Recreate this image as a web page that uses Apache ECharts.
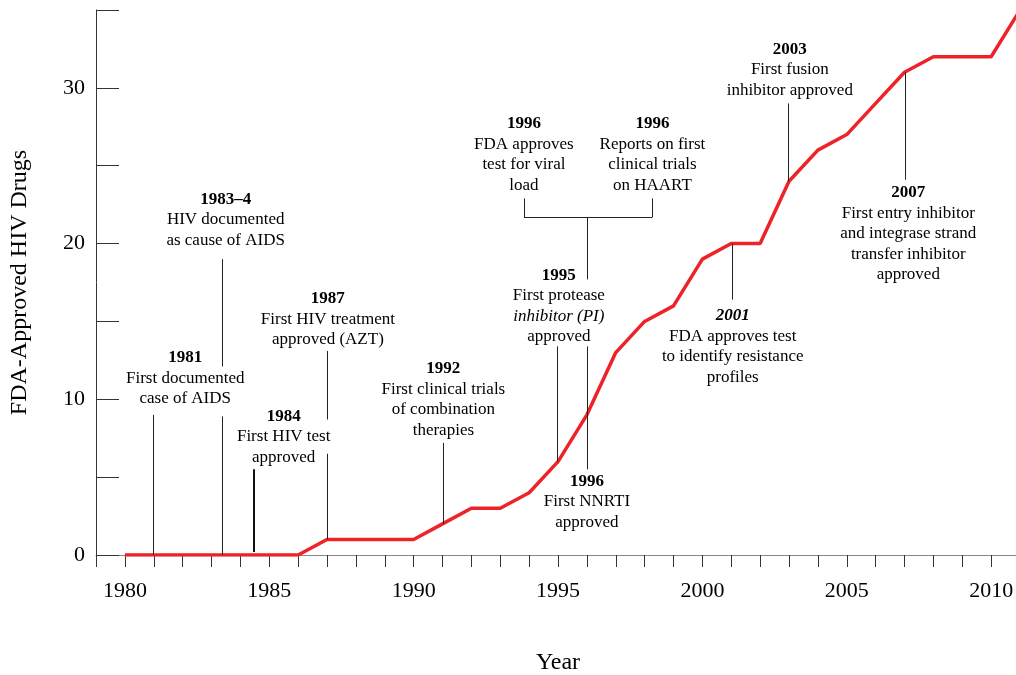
<!DOCTYPE html>
<html>
<head>
<meta charset="utf-8">
<script src="https://cdn.jsdelivr.net/npm/echarts@6/dist/echarts.min.js"></script>
<style>
  html, body { margin: 0; padding: 0; background: #fff; }
  #main { width: 1016px; height: 675px; }
</style>
</head>
<body>
<div id="main"></div>
<script>
// FDA-approved HIV drugs, cumulative count per year
const years = [1980, 1981, 1982, 1983, 1984, 1985, 1986, 1987, 1988, 1989, 1990, 1991, 1992, 1993, 1994, 1995,
  1996, 1997, 1998, 1999, 2000, 2001, 2002, 2003, 2004, 2005, 2006, 2007, 2008, 2009, 2010, 2011];
const drugs = [0, 0, 0, 0, 0, 0, 0, 1, 1, 1, 1, 2, 3, 3, 4, 6,
  9, 13, 15, 16, 19, 20, 20, 24, 26, 27, 29, 31, 32, 32, 32, 35];

const yearTicks = [1980, 1985, 1990, 1995, 2000, 2005, 2010];
const drugTicks = [0, 10, 20, 30];

// annotation text blocks: centre position (year, drugs) and lines
const noteX = [1982.09, 1983.49, 1985.50, 1987.03, 1991.03, 1995.03, 1996.0, 1993.82, 1998.27, 2001.05, 2003.03, 2007.13];
const noteY = [11.34, 21.53, 7.60, 15.14, 9.97, 15.98, 3.42, 25.72, 25.72, 13.39, 31.15, 20.62];
const noteText = [
  '{b|1981}\n{n|First documented}\n{n|case of AIDS}',
  '{b|1983–4}\n{n|HIV documented}\n{n|as cause of AIDS}',
  '{b|1984}\n{n|First HIV test}\n{n|approved}',
  '{b|1987}\n{n|First HIV treatment}\n{n|approved (AZT)}',
  '{b|1992}\n{n|First clinical trials}\n{n|of combination}\n{n|therapies}',
  '{b|1995}\n{n|First protease}\n{i|inhibitor (PI)}\n{n|approved}',
  '{b|1996}\n{n|First NNRTI}\n{n|approved}',
  '{b|1996}\n{n|FDA approves}\n{n|test for viral}\n{n|load}',
  '{b|1996}\n{n|Reports on first}\n{n|clinical trials}\n{n|on HAART}',
  '{bi|2001}\n{n|FDA approves test}\n{n|to identify resistance}\n{n|profiles}',
  '{b|2003}\n{n|First fusion}\n{n|inhibitor approved}',
  '{b|2007}\n{n|First entry inhibitor}\n{n|and integrase strand}\n{n|transfer inhibitor}\n{n|approved}'
];

// leader line segments: [x1, y1, x2, y2] in data units
const leaders = [
  [1980.98, 0, 1980.98, 9.0],
  [1983.38, 19.0, 1983.38, 12.1],
  [1983.38, 8.9, 1983.38, 0],
  [1987.0, 13.1, 1987.0, 8.7],
  [1987.0, 6.5, 1987.0, 1],
  [1991.03, 7.2, 1991.03, 2],
  [1994.99, 13.4, 1994.99, 6],
  [1996.0, 21.7, 1996.0, 17.7],
  [1996.0, 13.4, 1996.0, 5.5],
  [1993.82, 21.7, 1998.27, 21.7],
  [1993.82, 22.9, 1993.82, 21.7],
  [1998.27, 22.9, 1998.27, 21.7],
  [2001.05, 20, 2001.05, 16.4],
  [2002.96, 29.0, 2002.96, 24],
  [2007.03, 31, 2007.03, 24.1]
];
const boldLeaders = [
  [1984.46, 5.5, 1984.46, 0.2]
];

const serif = 'Liberation Serif, Times New Roman, serif';
const txt = '#000';

const chart = echarts.init(document.getElementById('main'));

const toMark = seg => [{ coord: [seg[0], seg[1]] }, { coord: [seg[2], seg[3]] }];

chart.setOption({
  animation: false,
  backgroundColor: '#fff',
  grid: { left: 96, right: -4, top: 10, bottom: 120, containLabel: false, outerBoundsMode: 'none' },
  xAxis: {
    type: 'value',
    min: 1979,
    max: 2011,
    interval: 1,
    name: 'Year',
    nameLocation: 'middle',
    nameGap: 96,
    nameTextStyle: { fontFamily: serif, fontSize: 24, color: txt },
    axisLine: { show: true, lineStyle: { color: '#888', width: 1 } },
    axisTick: { show: true, length: 12, lineStyle: { color: '#333', width: 1 } },
    axisLabel: {
      margin: 25,
      fontFamily: serif,
      fontSize: 22,
      color: txt,
      formatter: v => yearTicks.includes(v) ? String(v) : ''
    },
    splitLine: { show: false }
  },
  yAxis: {
    type: 'value',
    min: 0,
    max: 35,
    interval: 5,
    name: 'FDA-Approved HIV Drugs',
    nameLocation: 'middle',
    nameGap: 64,
    nameTextStyle: { fontFamily: serif, fontSize: 24, color: txt },
    axisLine: { show: true, lineStyle: { color: '#333', width: 1 } },
    axisTick: { show: true, inside: true, length: 23, lineStyle: { color: '#333', width: 1 } },
    axisLabel: {
      margin: 11,
      fontFamily: serif,
      fontSize: 22,
      color: txt,
      formatter: v => drugTicks.includes(v) ? String(v) : ''
    },
    splitLine: { show: false }
  },
  series: [
    {
      name: 'notes',
      type: 'scatter',
      symbolSize: 0,
      silent: true,
      z: 3,
      itemStyle: { opacity: 1 },
      data: noteX.map((x, i) => ({ value: [x, noteY[i]], label: { formatter: noteText[i] } })),
      label: {
        show: true,
        position: 'inside',
        align: 'center',
        verticalAlign: 'middle',
        color: txt,
        rich: {
          b: { fontFamily: serif, fontSize: 17, fontWeight: 'bold', color: txt, lineHeight: 20.5, align: 'center' },
          bi: { fontFamily: serif, fontSize: 17, fontWeight: 'bold', fontStyle: 'italic', color: txt, lineHeight: 20.5, align: 'center' },
          n: { fontFamily: serif, fontSize: 17, color: txt, lineHeight: 20.5, align: 'center' },
          i: { fontFamily: serif, fontSize: 17, fontStyle: 'italic', color: txt, lineHeight: 20.5, align: 'center' }
        }
      },
      markLine: {
        silent: true,
        symbol: 'none',
        label: { show: false },
        lineStyle: { type: 'solid', color: '#222', width: 1 },
        data: leaders.map(toMark)
      }
    },
    {
      name: 'notes-bold',
      type: 'scatter',
      data: [],
      markLine: {
        silent: true,
        symbol: 'none',
        label: { show: false },
        lineStyle: { type: 'solid', color: '#111', width: 2 },
        data: boldLeaders.map(toMark)
      }
    },
    {
      name: 'FDA-Approved HIV Drugs',
      type: 'line',
      data: years.map((y, i) => [y, drugs[i]]),
      symbol: 'none',
      z: 2,
      lineStyle: { color: '#ee2229', width: 3.5 }
    }
  ]
});
</script>
</body>
</html>
